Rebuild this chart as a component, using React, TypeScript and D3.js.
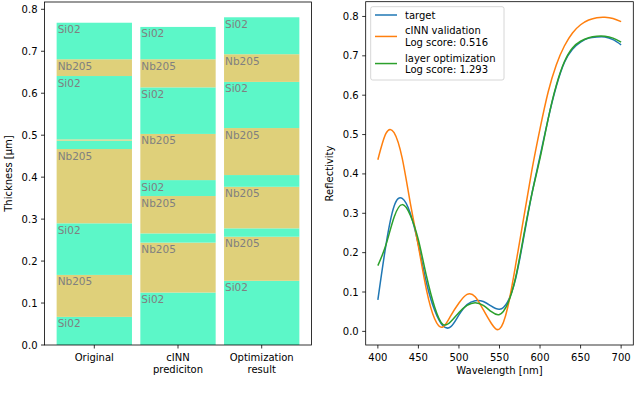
import * as d3 from "d3";

// stacked layers, bottom to top
const stacks = ["Original", "cINN\nprediciton", "Optimization\nresult"];
const materials = ["Si02", "Nb205", "Si02", "Nb205", "Si02", "Nb205", "Si02", "Nb205", "Si02"];
const originalThk = [0.067, 0.1, 0.123, 0.177, 0.02, 0.003, 0.151, 0.04, 0.087];
const cinnThk = [0.125, 0.119, 0.022, 0.089, 0.038, 0.11, 0.111, 0.067, 0.077];
const optThk = [0.153, 0.105, 0.02, 0.099, 0.028, 0.112, 0.11, 0.066, 0.088];

// reflectivity spectra
const wavelengths = d3.range(400, 701, 10);
const target = [0.08, 0.22, 0.318, 0.338, 0.3, 0.22, 0.123, 0.054, 0.015, 0.012, 0.042, 0.068, 0.078, 0.076, 0.064, 0.056, 0.075, 0.135, 0.24, 0.35, 0.445, 0.54, 0.622, 0.683, 0.717, 0.735, 0.745, 0.748, 0.748, 0.741, 0.728];
const cinn = [0.436, 0.503, 0.505, 0.44, 0.326, 0.216, 0.105, 0.032, 0.011, 0.04, 0.072, 0.094, 0.088, 0.055, 0.02, 0.006, 0.06, 0.17, 0.29, 0.41, 0.515, 0.608, 0.677, 0.725, 0.758, 0.779, 0.791, 0.797, 0.798, 0.795, 0.787];
const layerOpt = [0.167, 0.22, 0.29, 0.322, 0.295, 0.232, 0.14, 0.062, 0.018, 0.025, 0.048, 0.066, 0.073, 0.066, 0.05, 0.043, 0.07, 0.138, 0.245, 0.35, 0.44, 0.54, 0.625, 0.685, 0.72, 0.737, 0.746, 0.75, 0.75, 0.745, 0.735];

const legendLabels = [["target"], ["cINN validation", "Log score: 0.516"], ["layer optimization", "Log score: 1.293"]];
const lineColors = ["#1f77b4", "#ff7f0e", "#2ca02c"];

const matColor: Record<string, string> = { Si02: "#5cf7c8", Nb205: "#dfd07a" };
const font = "DejaVu Sans, sans-serif";

export default function App() {
  const thks = [originalThk, cinnThk, optThk];
  const series = [target, cinn, layerOpt];

  // left panel scales
  const xL = d3.scaleLinear().domain([-0.595, 2.595]).range([44.5, 311.5]);
  const yL = d3.scaleLinear().domain([0, 0.8174]).range([345, 2]);
  const barW = xL(0.9) - xL(0);

  // right panel scales
  const xR = d3.scaleLinear().domain([385, 715]).range([365.7, 633.3]);
  const yR = d3.scaleLinear().domain([-0.0346, 0.8375]).range([345, 1.7]);
  const line = d3.line<number>()
    .x((d, i) => xR(wavelengths[i]))
    .y(d => yR(d))
    .curve(d3.curveNatural);

  const segs: any[] = [];
  thks.forEach((arr, bi) => {
    let base = 0;
    arr.forEach((t, li) => {
      segs.push({ bi, mat: materials[li], y0: base, y1: base + t, t });
      base += t;
    });
  });

  return (
    <div style={{ position: "absolute", left: 0, top: 0 }}>
      <svg width={640} height={395} style={{ display: "block" }} fontFamily={font}>
        <rect width={640} height={395} fill="#fff" />
        {/* left: layer stacks */}
        {segs.map((s, i) => (
          <rect key={"s" + i} x={xL(s.bi) - barW / 2} y={yL(s.y1)} width={barW}
            height={yL(s.y0) - yL(s.y1)} fill={matColor[s.mat]} />
        ))}
        {segs.filter(s => s.t >= 0.035).map((s, i) => (
          <text key={"l" + i} x={xL(s.bi) - barW / 2 + 1} y={yL(s.y1) + 10.5}
            fontSize={10.5} fill="#808080">{s.mat}</text>
        ))}
        <rect x={44.5} y={2} width={267} height={343} fill="none" stroke="#000" strokeWidth={0.8} />
        {yL.ticks(8).map(t => (
          <g key={"yl" + t}>
            <line x1={41} x2={44.5} y1={yL(t)} y2={yL(t)} stroke="#000" strokeWidth={0.8} />
            <text x={37.5} y={yL(t) + 3.5} fontSize={10} textAnchor="end">{t.toFixed(1)}</text>
          </g>
        ))}
        {stacks.map((c, i) => (
          <g key={"xl" + i}>
            <line x1={xL(i)} x2={xL(i)} y1={345} y2={348.5} stroke="#000" strokeWidth={0.8} />
            {c.split("\n").map((s, j) => (
              <text key={j} x={xL(i)} y={360.5 + j * 12} fontSize={10} textAnchor="middle">{s}</text>
            ))}
          </g>
        ))}
        <text transform="translate(12,173.5) rotate(-90)" fontSize={10} textAnchor="middle">Thickness [µm]</text>

        {/* right: reflectivity */}
        {series.map((d, i) => (
          <path key={"p" + i} d={line(d) || ""} fill="none" stroke={lineColors[i]} strokeWidth={1.5} />
        ))}
        <rect x={365.7} y={1.7} width={267.6} height={343.3} fill="none" stroke="#000" strokeWidth={0.8} />
        {yR.ticks(8).filter(t => t >= 0).map(t => (
          <g key={"yr" + t}>
            <line x1={362.2} x2={365.7} y1={yR(t)} y2={yR(t)} stroke="#000" strokeWidth={0.8} />
            <text x={358.7} y={yR(t) + 3.5} fontSize={10} textAnchor="end">{t.toFixed(1)}</text>
          </g>
        ))}
        {d3.range(400, 701, 50).map(t => (
          <g key={"xr" + t}>
            <line x1={xR(t)} x2={xR(t)} y1={345} y2={348.5} stroke="#000" strokeWidth={0.8} />
            <text x={xR(t)} y={360.5} fontSize={10} textAnchor="middle">{t}</text>
          </g>
        ))}
        <text x={xR(550)} y={374} fontSize={10} textAnchor="middle">Wavelength [nm]</text>
        <text transform="translate(333,173.5) rotate(-90)" fontSize={10} textAnchor="middle">Reflectivity</text>

        {/* legend */}
        <rect x={370.7} y={6.7} width={133.3} height={73.3} rx={2} fill="#fff" fillOpacity={0.8} stroke="#ccc" strokeWidth={0.8} />
        {(() => {
          let yy = 15;
          return legendLabels.map((lab, i) => {
            const top = yy;
            yy += lab.length * 11.3 + 4.5;
            const mid = top + (lab.length - 1) * 11.3 / 2;
            return (
              <g key={"lg" + i}>
                <line x1={375} x2={397} y1={mid} y2={mid} stroke={lineColors[i]} strokeWidth={1.5} />
                {lab.map((s, j) => (
                  <text key={j} x={405} y={top + j * 11.3 + 3.6} fontSize={10}>{s}</text>
                ))}
              </g>
            );
          });
        })()}
      </svg>
    </div>
  );
}
